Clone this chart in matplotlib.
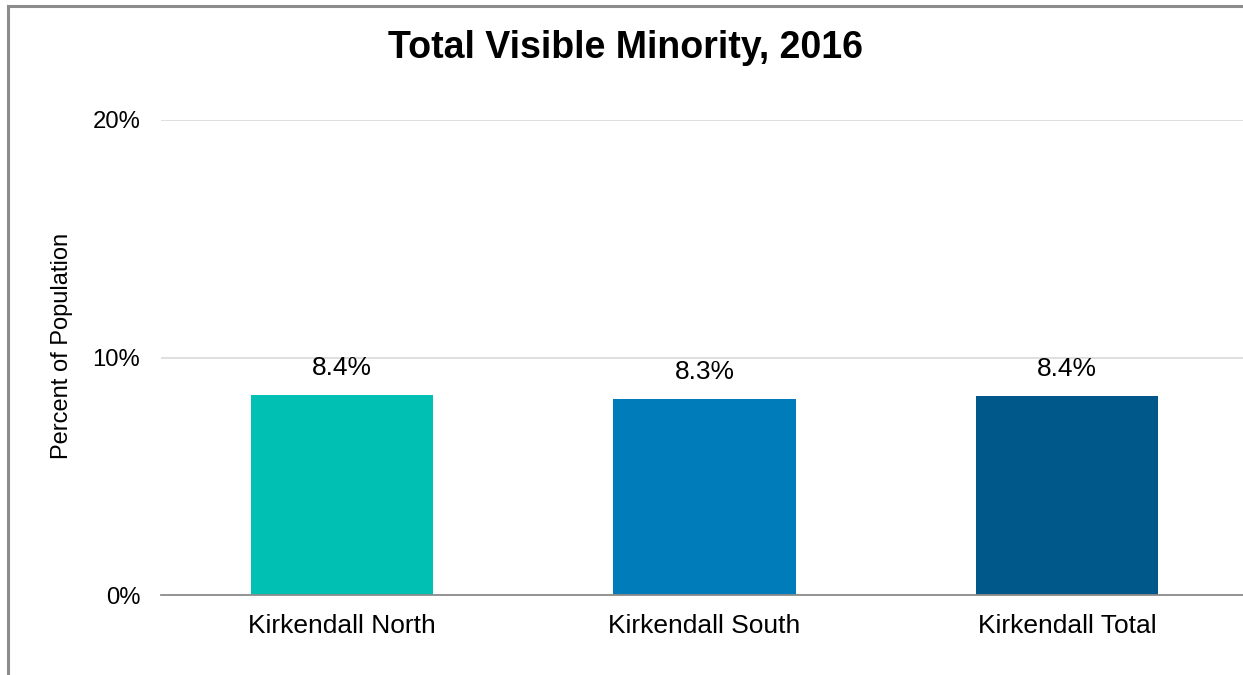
import matplotlib
matplotlib.use('Agg')
import matplotlib.pyplot as plt
from matplotlib.lines import Line2D

plt.rcParams['font.family'] = ['Liberation Sans', 'DejaVu Sans']

categories = ['Kirkendall North', 'Kirkendall South', 'Kirkendall Total']
values = [8.44, 8.26, 8.37]
labels = ['8.4%', '8.3%', '8.4%']
colors = ['#00BFB3', '#007CBA', '#00578A']
yticks = [0, 10, 20]

fig = plt.figure(figsize=(12.43, 6.75), dpi=100)
ax = fig.add_axes([161 / 1243, 1 - 595 / 675, 1087 / 1243, 475 / 675])

x = range(len(categories))
ax.bar(x, values, width=0.503, color=colors, zorder=3)
for xi, v, lb in zip(x, values, labels):
    ax.text(xi, v + 0.62, lb, ha='center', va='bottom', fontsize=19, color='black')

ax.set_xlim(-0.5, 2.5)
ax.set_ylim(0, 20)
ax.set_yticks(yticks)
ax.set_yticklabels([f'{t}%' for t in yticks], fontsize=17.2)
ax.set_xticks(list(x))
ax.set_xticklabels(categories, fontsize=19)
ax.tick_params(length=0)
ax.tick_params(axis='y', pad=15)
ax.tick_params(axis='x', pad=14)
ax.yaxis.grid(True, color='#D9D9D9', lw=1.2, zorder=0)
for s in ['top', 'right', 'left']:
    ax.spines[s].set_visible(False)
ax.spines['bottom'].set_color('#8C8C8C')
ax.spines['bottom'].set_linewidth(1.3)
ax.spines['bottom'].set_zorder(4)

ax.set_ylabel('Percent of Population', fontsize=17)
ax.yaxis.set_label_coords(-0.081, 0.524)
fig.text(626 / 1243, 1 - 48 / 675, 'Total Visible Minority, 2016', ha='center', va='center',
         fontsize=27, fontweight='bold')

# outer chart border (cropped screenshot: top and left edges only)
fig.add_artist(Line2D([8 / 1243, 1], [1 - 6 / 675] * 2, color='#8C8C8C', lw=2.2,
                      transform=fig.transFigure))
fig.add_artist(Line2D([8 / 1243] * 2, [0, 1 - 6 / 675], color='#8C8C8C', lw=2.2,
                      transform=fig.transFigure))

fig.savefig('out.png', dpi=100, facecolor='white')
